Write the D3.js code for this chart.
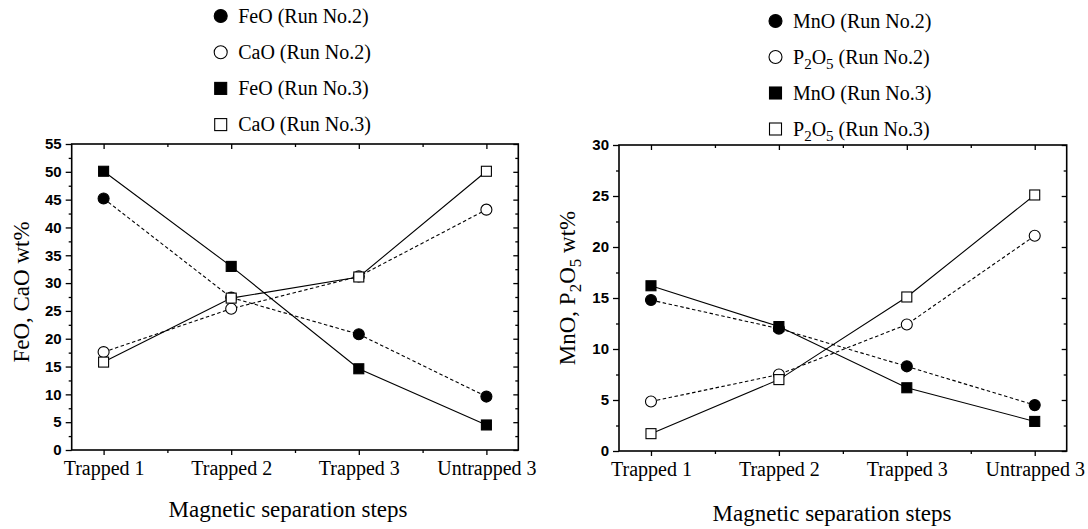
<!DOCTYPE html>
<html>
<head>
<meta charset="utf-8">
<script src="https://cdn.jsdelivr.net/npm/d3@7"></script>
<style>
  body { margin: 0; background: #fff; }
  svg { display: block; }
</style>
</head>
<body>
<div id="chart"></div>
<script>
// categories on the x axis (shared by both panels)
const steps = ["Trapped 1", "Trapped 2", "Trapped 3", "Untrapped 3"];

// left panel: FeO / CaO, wt%
const feoRun2 = [45.2, 27.4, 20.8, 9.6];
const caoRun2 = [17.6, 25.4, 31.2, 43.2];
const feoRun3 = [50.1, 33.0, 14.6, 4.5];
const caoRun3 = [15.8, 27.3, 31.1, 50.1];
const leftTicks = [0, 5, 10, 15, 20, 25, 30, 35, 40, 45, 50, 55];

// right panel: MnO / P2O5, wt%
const mnoRun2 = [14.8, 12.0, 8.3, 4.5];
const p2o5Run2 = [4.85, 7.5, 12.4, 21.1];
const mnoRun3 = [16.2, 12.2, 6.2, 2.9];
const p2o5Run3 = [1.7, 7.0, 15.1, 25.1];
const rightTicks = [0, 5, 10, 15, 20, 25, 30];

const SERIF = "'Liberation Serif', 'Times New Roman', serif";
const SANS = "'Liberation Sans', Arial, sans-serif";

// writes "P_2O_5" style strings, digits after "_" become subscripts
function richText(sel, str, subSize, shift) {
  const parts = str.split(/_(\d)/);
  let cur = 0;
  parts.forEach((p, i) => {
    if (!p) return;
    const target = i % 2 ? shift : 0;
    const t = sel.append("tspan").attr("dy", target - cur).text(p);
    if (i % 2) t.attr("font-size", subSize);
    cur = target;
  });
}

class Step_Panel {
  constructor(svg, opts) {
    this.svg = svg;
    this.o = opts;
    this.draw();
  }

  draw() {
    this.plot = this.svg.append("g");
    this.createScales();
    this.drawAxis();
    this.drawSeries();
    this.drawLegend();
    this.drawTitles();
  }

  createScales() {
    const o = this.o;
    this.xScale = d3.scalePoint().domain(steps).range([o.left, o.right]).padding(0.25);
    // index scale, only used for the minor ticks between categories
    this.xIndex = d3.scaleLinear()
      .domain([0, steps.length - 1])
      .range([this.xScale(steps[0]), this.xScale(steps[steps.length - 1])]);
    this.yScale = d3.scaleLinear().domain([0, d3.max(o.ticks)]).range([o.bottom, o.top]);
  }

  drawAxis() {
    const o = this.o;
    const minorY = d3.pairs(o.ticks).map(([a, b]) => (a + b) / 2);
    const minorX = d3.range(steps.length - 1).map((i) => i + 0.5);

    const style = (g) => {
      g.select(".domain").remove();
      g.selectAll("line").attr("stroke", "#000").attr("stroke-width", 1.3);
    };

    // left
    this.plot.append("g")
      .attr("transform", `translate(${o.left},0)`)
      .call(d3.axisLeft(this.yScale).tickValues(o.ticks).tickSize(6).tickPadding(4))
      .call(style)
      .call((g) => g.selectAll("text")
        .attr("font-family", SANS).attr("font-weight", "bold")
        .attr("font-size", 15).attr("fill", "#000"));
    this.plot.append("g")
      .attr("transform", `translate(${o.left},0)`)
      .call(d3.axisLeft(this.yScale).tickValues(minorY).tickSize(3).tickFormat(""))
      .call(style);

    // right (inward)
    this.plot.append("g")
      .attr("transform", `translate(${o.right},0)`)
      .call(d3.axisRight(this.yScale).tickValues(o.ticks).tickSize(-5).tickFormat(""))
      .call(style);
    this.plot.append("g")
      .attr("transform", `translate(${o.right},0)`)
      .call(d3.axisRight(this.yScale).tickValues(minorY).tickSize(-3).tickFormat(""))
      .call(style);

    // bottom
    this.plot.append("g")
      .attr("transform", `translate(0,${o.bottom})`)
      .call(d3.axisBottom(this.xScale).tickSize(5).tickPadding(6))
      .call(style)
      .call((g) => g.selectAll("text")
        .attr("font-family", SERIF).attr("font-size", 20).attr("fill", "#000"));
    this.plot.append("g")
      .attr("transform", `translate(0,${o.bottom})`)
      .call(d3.axisBottom(this.xIndex).tickValues(minorX).tickSize(3).tickFormat(""))
      .call(style);

    // top (inward)
    this.plot.append("g")
      .attr("transform", `translate(0,${o.top})`)
      .call(d3.axisTop(this.xScale).tickSize(-5).tickFormat(""))
      .call(style);
    this.plot.append("g")
      .attr("transform", `translate(0,${o.top})`)
      .call(d3.axisTop(this.xIndex).tickValues(minorX).tickSize(-3).tickFormat(""))
      .call(style);

    // frame
    this.plot.append("rect")
      .attr("x", o.left).attr("y", o.top)
      .attr("width", o.right - o.left).attr("height", o.bottom - o.top)
      .attr("fill", "none").attr("stroke", "#000").attr("stroke-width", 1.6);
  }

  drawSeries() {
    const line = d3.line()
      .x((d, i) => this.xScale(steps[i]))
      .y((d) => this.yScale(d));

    const lines = this.plot.append("g").attr("fill", "none").attr("stroke", "#000");
    this.o.series.forEach((s) => {
      lines.append("path")
        .attr("d", line(s.values))
        .attr("stroke-width", 1.1)
        .attr("stroke-dasharray", s.dashed ? "3.5,2.5" : null);
    });

    const marks = this.plot.append("g");
    this.o.series.forEach((s) => {
      const g = marks.append("g")
        .attr("fill", s.filled ? "#000" : "#fff")
        .attr("stroke", "#000")
        .attr("stroke-width", 1.1);
      s.values.forEach((v, i) => {
        this.symbol(g, this.xScale(steps[i]), this.yScale(v), s.shape, 5.5, 10);
      });
    });
  }

  symbol(g, cx, cy, shape, r, side) {
    if (shape === "circle") {
      g.append("circle").attr("cx", cx).attr("cy", cy).attr("r", r);
    } else {
      g.append("rect")
        .attr("x", cx - side / 2).attr("y", cy - side / 2)
        .attr("width", side).attr("height", side);
    }
  }

  drawLegend() {
    const lg = this.o.legend;
    const g = this.svg.append("g");
    this.o.series.forEach((s, i) => {
      const cy = lg.y0 + i * lg.dy;
      const sg = g.append("g")
        .attr("fill", s.filled ? "#000" : "#fff")
        .attr("stroke", "#000").attr("stroke-width", 1.1);
      this.symbol(sg, lg.x, cy, s.shape, 6.5, 12);
      const t = g.append("text")
        .attr("x", lg.x + 17.5).attr("y", cy + 6.8)
        .attr("font-family", SERIF).attr("font-size", 20);
      richText(t, s.label, 15, 5);
    });
  }

  drawTitles() {
    const o = this.o;
    this.svg.append("text")
      .attr("x", o.xTitle.x).attr("y", o.xTitle.y)
      .attr("text-anchor", "middle")
      .attr("font-family", SERIF).attr("font-size", 23)
      .text("Magnetic separation steps");

    const t = this.svg.append("text")
      .attr("transform", `translate(${o.yTitle.x},${o.yTitle.y}) rotate(-90)`)
      .attr("text-anchor", "middle")
      .attr("font-family", SERIF).attr("font-size", 23);
    richText(t, o.yTitle.text, 17, 6);
  }
}

const svg = d3.select("#chart").append("svg")
  .attr("width", 1088).attr("height", 529)
  .attr("viewBox", [0, 0, 1088, 529]);
svg.append("rect").attr("width", 1088).attr("height", 529).attr("fill", "#fff");

new Step_Panel(svg, {
  left: 71.7, right: 518.3, top: 144, bottom: 450,
  ticks: leftTicks,
  series: [
    { label: "FeO (Run No.2)", values: feoRun2, shape: "circle", filled: true, dashed: true },
    { label: "CaO (Run No.2)", values: caoRun2, shape: "circle", filled: false, dashed: true },
    { label: "FeO (Run No.3)", values: feoRun3, shape: "square", filled: true, dashed: false },
    { label: "CaO (Run No.3)", values: caoRun3, shape: "square", filled: false, dashed: false }
  ],
  legend: { x: 220.7, y0: 16, dy: 36.2 },
  xTitle: { x: 288, y: 517 },
  yTitle: { x: 29, y: 292, text: "FeO, CaO wt%" }
});

new Step_Panel(svg, {
  left: 619, right: 1066.7, top: 145, bottom: 451,
  ticks: rightTicks,
  series: [
    { label: "MnO (Run No.2)", values: mnoRun2, shape: "circle", filled: true, dashed: true },
    { label: "P_2O_5 (Run No.2)", values: p2o5Run2, shape: "circle", filled: false, dashed: true },
    { label: "MnO (Run No.3)", values: mnoRun3, shape: "square", filled: true, dashed: false },
    { label: "P_2O_5 (Run No.3)", values: p2o5Run3, shape: "square", filled: false, dashed: false }
  ],
  legend: { x: 775.5, y0: 21, dy: 36 },
  xTitle: { x: 832, y: 521 },
  yTitle: { x: 575, y: 288, text: "MnO, P_2O_5 wt%" }
});
</script>
</body>
</html>
